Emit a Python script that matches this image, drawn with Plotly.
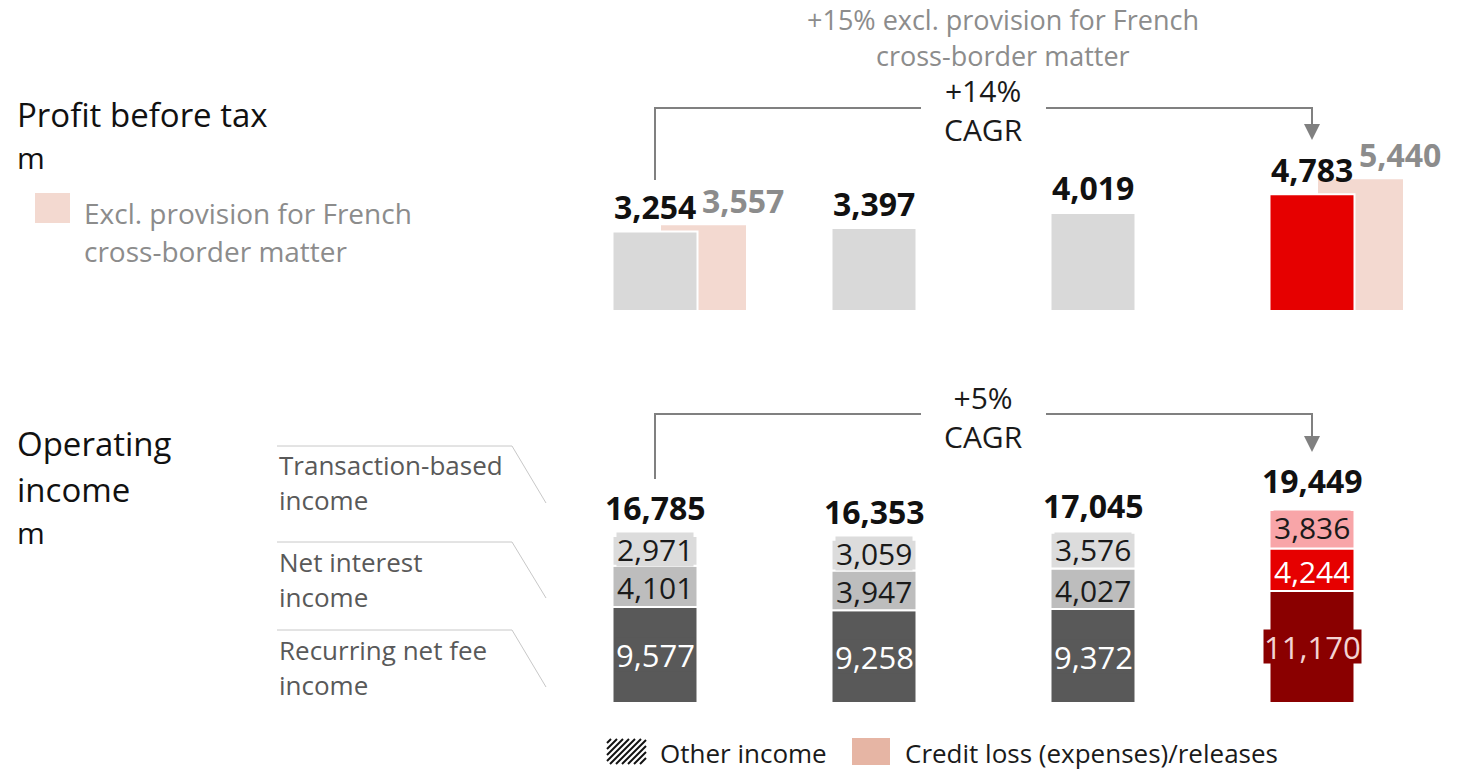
import plotly.graph_objects as go

# ---- data -------------------------------------------------------------
years = ["2018", "2019", "2020", "2021"]

profit_before_tax = [3254, 3397, 4019, 4783]
pbt_excl_provision = [3557, None, None, 5440]

recurring_net_fee = [9577, 9258, 9372, 11170]
net_interest = [4101, 3947, 4027, 4244]
transaction_based = [2971, 3059, 3576, 3836]
operating_income_total = [16785, 16353, 17045, 19449]

pbt_cagr = "+14%"
pbt_cagr_excl = "+15% excl. provision for French"
oi_cagr = "+5%"

# ---- canvas geometry (pixels) -----------------------------------------
W, H = 1474, 772
FONT = "Open Sans"
FIRST_CENTER, PITCH = 655, 219          # x pixel of first bar centre, spacing
BAR_W = 85 / PITCH                       # bar width in category units

TOP_BASE, TOP_K = 311, 0.0244            # baseline pixel, pixels per unit
BOT_BASE, BOT_K = 703, 0.01003
TOP_MAX, BOT_MAX = 6000, 20000


def px(x):
    return x / W


def py(y):
    return 1 - y / H


def bar_colors(base, last):
    return [base] * (len(years) - 1) + [last]


# ---- traces -----------------------------------------------------------
white_edge = dict(color="white", width=2)
fig = go.Figure()

fig.add_trace(go.Bar(
    x=years, y=pbt_excl_provision, xaxis="x", yaxis="y",
    width=87 / PITCH, offset=5 / PITCH,
    marker=dict(color="#F3D9D0", line=white_edge), hoverinfo="skip"))
fig.add_trace(go.Bar(
    x=years, y=profit_before_tax, xaxis="x", yaxis="y",
    width=BAR_W, offset=-BAR_W / 2,
    marker=dict(color=bar_colors("#D9D9D9", "#E60000"), line=white_edge),
    hoverinfo="skip"))

seg_net_base = recurring_net_fee
seg_tr_base = [a + b for a, b in zip(recurring_net_fee, net_interest)]
# (values, base, fill colours, label colours, label size, label nudge in px)
segments = [
    (recurring_net_fee, [0] * len(years), bar_colors("#595959", "#8A0000"),
     bar_colors("#FFFFFF", "#F3D3D3"), 31, 0),
    (net_interest, seg_net_base, bar_colors("#BDBDBD", "#E60000"),
     bar_colors("#1A1A1A", "#FFFFFF"), 30, -1.5),
    (transaction_based, seg_tr_base, bar_colors("#DCDCDC", "#F8A5A8"),
     bar_colors("#1A1A1A", "#1A1A1A"), 30, 1.5),
]
for vals, base, cols, *_ in segments:
    fig.add_trace(go.Bar(
        x=years, y=vals, base=base, xaxis="x2", yaxis="y2",
        width=BAR_W, offset=-BAR_W / 2,
        marker=dict(color=cols, line=white_edge), hoverinfo="skip"))

# ---- annotations ------------------------------------------------------
ann = []


def text(x, y, s, size, color="#1A1A1A", anchor="left", bold=False):
    ann.append(dict(
        x=px(x), y=py(y), xref="paper", yref="paper", text=f"<b>{s}</b>" if bold else s,
        showarrow=False, xanchor=anchor, yanchor="middle",
        font=dict(family=FONT, size=size, color=color)))


# left-hand titles
text(15, 115, "Profit before tax", 33, "#111111")
text(15, 157, "m", 30, "#111111")
text(82, 213, "Excl. provision for French", 28, "#8C8C8C")
text(82, 251, "cross-border matter", 28, "#8C8C8C")
text(15, 443, "Operating", 33, "#111111")
text(15, 489, "income", 33, "#111111")
text(15, 532, "m", 30, "#111111")

seg_names = [("Transaction-based", 465, "income", 500),
             ("Net interest", 562, "income", 597),
             ("Recurring net fee", 650, "income", 685)]
for l1, y1, l2, y2 in seg_names:
    text(277, y1, l1, 26, "#595959")
    text(277, y2, l2, 26, "#595959")

# CAGR captions
text(1003, 20, pbt_cagr_excl, 27, "#8C8C8C", "center")
text(1003, 55, "cross-border matter", 27, "#8C8C8C", "center")
text(983, 110, f"{pbt_cagr}<br>CAGR", 30, "#1A1A1A", "center")
text(983, 417, f"{oi_cagr}<br>CAGR", 30, "#1A1A1A", "center")

# legend texts
text(658, 753, "Other income", 26, "#1A1A1A")
text(903, 753, "Credit loss (expenses)/releases", 26, "#1A1A1A")

# value labels – profit before tax
for i, v in enumerate(profit_before_tax):
    ann.append(dict(x=i, y=v, xref="x", yref="y", text=f"<b>{v:,}</b>",
                    showarrow=False, yanchor="middle", yshift=25,
                    font=dict(family=FONT, size=32, color="#111111")))
for i, v in enumerate(pbt_excl_provision):
    if v is None:
        continue
    ann.append(dict(x=i + 88 / PITCH, y=v, xref="x", yref="y", text=f"<b>{v:,}</b>",
                    showarrow=False, yanchor="middle", yshift=24,
                    font=dict(family=FONT, size=32, color="#8C8C8C")))

# value labels – operating income
for i, v in enumerate(operating_income_total):
    ann.append(dict(x=i, y=v, xref="x2", yref="y2", text=f"<b>{v:,}</b>",
                    showarrow=False, yanchor="middle", yshift=27,
                    font=dict(family=FONT, size=32, color="#111111")))
for vals, base, cols, tcols, size, nudge in segments:
    for i, v in enumerate(vals):
        ann.append(dict(x=i, y=base[i] + v / 2, xref="x2", yref="y2",
                        text=f"{v:,}", showarrow=False, yanchor="middle",
                        yshift=nudge, height=33, valign="middle",
                        bgcolor=cols[i], borderpad=0,
                        font=dict(family=FONT, size=size, color=tcols[i])))

# ---- shapes -----------------------------------------------------------
shapes = []
LINE_GREY = dict(color="#808080", width=2)


def bracket(y_line, y_left_end, y_arrow_tip, gap=(921, 1046)):
    x_l, x_r = FIRST_CENTER, FIRST_CENTER + PITCH * (len(years) - 1)
    path = (f"M{px(x_l)},{py(y_left_end)} L{px(x_l)},{py(y_line)} L{px(gap[0])},{py(y_line)} "
            f"M{px(gap[1])},{py(y_line)} L{px(x_r)},{py(y_line)} L{px(x_r)},{py(y_arrow_tip - 14)}")
    shapes.append(dict(type="path", xref="paper", yref="paper", path=path, line=LINE_GREY))
    tri = (f"M{px(x_r - 8)},{py(y_arrow_tip - 16)} L{px(x_r + 8)},{py(y_arrow_tip - 16)} "
           f"L{px(x_r)},{py(y_arrow_tip)} Z")
    shapes.append(dict(type="path", xref="paper", yref="paper", path=tri,
                       fillcolor="#808080", line=dict(width=0)))


bracket(108, 180, 140)
bracket(414, 479, 452)

# connectors from segment names to the first bar
for y0, y1 in [(446, 503), (542, 598), (630, 687)]:
    shapes.append(dict(type="path", xref="paper", yref="paper",
                       path=f"M{px(277)},{py(y0)} L{px(512)},{py(y0)} L{px(546)},{py(y1)}",
                       line=dict(color="#C8C8C8", width=1)))

# swatches
shapes.append(dict(type="rect", xref="paper", yref="paper",
                   x0=px(35), x1=px(70), y0=py(223), y1=py(193),
                   fillcolor="#F3D9D0", line=dict(width=0)))
shapes.append(dict(type="rect", xref="paper", yref="paper",
                   x0=px(852), x1=px(890), y0=py(765), y1=py(738),
                   fillcolor="#E6B5A4", line=dict(width=0)))
hx0, hx1, hy0, hy1 = 607, 646, 739, 764
c = hx0 + hy0 + 4
while c < hx1 + hy1:
    xa, xb = max(hx0, c - hy1), min(hx1, c - hy0)
    if xb > xa:
        shapes.append(dict(type="line", xref="paper", yref="paper",
                           x0=px(xa), y0=py(c - xa), x1=px(xb), y1=py(c - xb),
                           line=dict(color="#111111", width=2)))
    c += 6

# ---- layout -----------------------------------------------------------
x_range = [-FIRST_CENTER / PITCH, (W - FIRST_CENTER) / PITCH]
hidden = dict(showgrid=False, zeroline=False, showticklabels=False,
              showline=False, ticks="", fixedrange=True)

fig.update_layout(
    width=W, height=H, margin=dict(l=0, r=0, t=0, b=0),
    paper_bgcolor="white", plot_bgcolor="white",
    barmode="overlay", showlegend=False,
    xaxis=dict(type="category", range=x_range, domain=[0, 1], anchor="y", **hidden),
    yaxis=dict(range=[0, TOP_MAX], anchor="x",
               domain=[py(TOP_BASE), py(TOP_BASE - TOP_MAX * TOP_K)], **hidden),
    xaxis2=dict(type="category", range=x_range, domain=[0, 1], anchor="y2", **hidden),
    yaxis2=dict(range=[0, BOT_MAX], anchor="x2",
                domain=[py(BOT_BASE), py(BOT_BASE - BOT_MAX * BOT_K)], **hidden),
    annotations=ann, shapes=shapes,
    font=dict(family=FONT),
)

fig.write_html("out.html", config={"displayModeBar": False})
